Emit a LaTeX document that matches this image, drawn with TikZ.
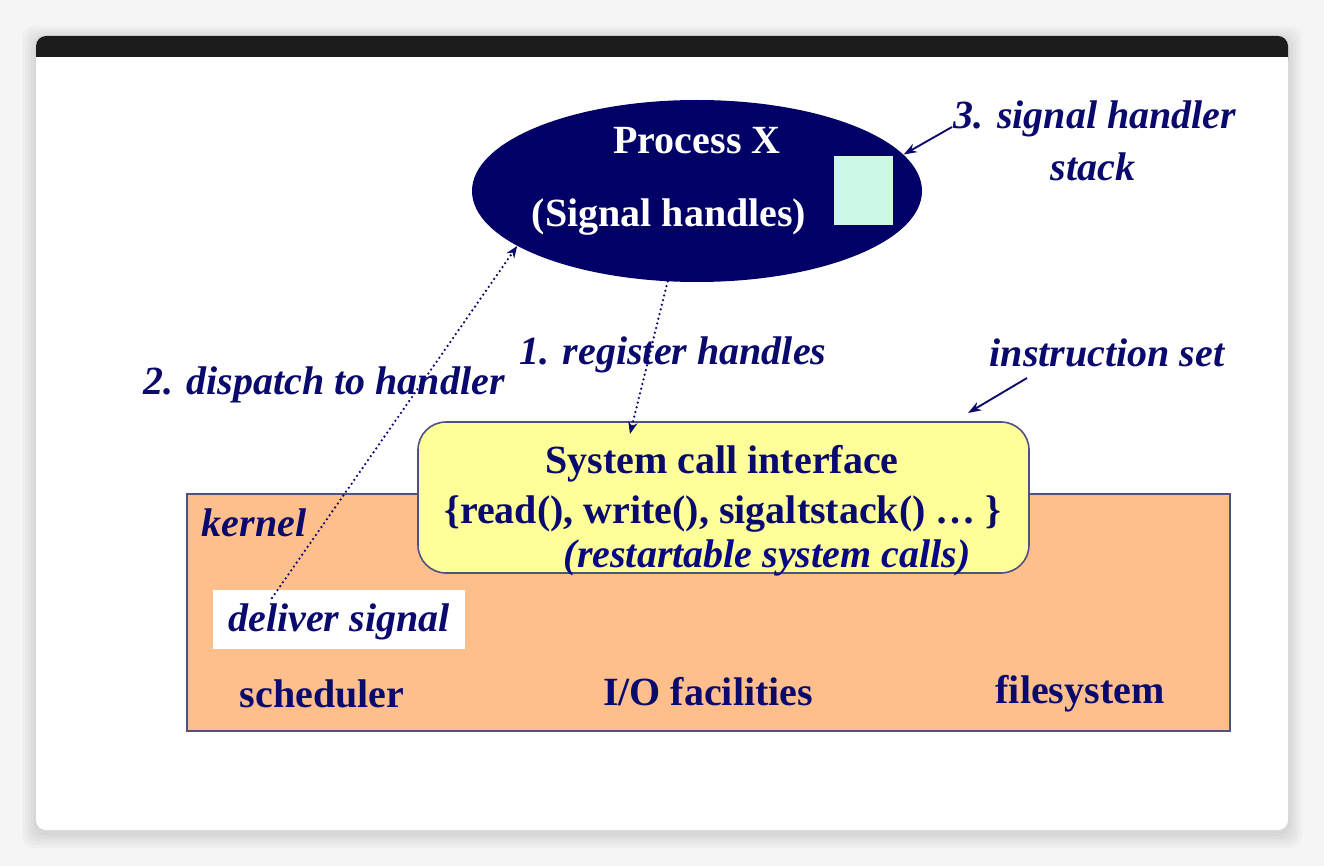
\documentclass[tikz,border=0pt]{standalone}
\usepackage{fontspec}
\setmainfont{Liberation Serif}
\usetikzlibrary{shapes.geometric,arrows.meta}
\definecolor{navytext}{RGB}{10,10,110}
\definecolor{procfill}{RGB}{0,0,102}
\definecolor{peach}{RGB}{255,191,140}
\definecolor{callyellow}{RGB}{255,255,153}
\definecolor{mint}{RGB}{204,247,230}
\definecolor{edgegray}{RGB}{80,80,130}
\definecolor{barblack}{RGB}{28,28,28}
\tikzset{
  bigtxt/.style={font=\fontsize{30}{36}\selectfont\bfseries, text=navytext, inner sep=0pt},
  note/.style={bigtxt, font=\fontsize{30}{36}\selectfont\bfseries\itshape},
  dotarrow/.style={navytext, line width=1.9pt, line cap=round, dash pattern=on 0pt off 3.6pt, -{Stealth[length=9pt,width=7pt]}},
  solidarrow/.style={navytext, line width=1.4pt, -{Stealth[length=10pt,width=7pt]}},
  panel/.style={draw=edgegray, line width=1.2pt, inner sep=0pt}
}
\begin{document}
\begin{tikzpicture}[x=0.75pt,y=-0.75pt]
	\useasboundingbox (0,0) rectangle (1324,866);
	\fill[white!96!black] (0,0) rectangle (1324,866);
	% window shadow and card
	\foreach \d in {14,11,8,5,2}
		\fill[black, opacity=0.025, rounded corners=9pt] (36-\d,36-\d+4) rectangle (1288+\d,830+\d+4);
	\fill[white, rounded corners=7.5pt] (36,36) rectangle (1288,830);
	\fill[barblack, rounded corners=7.5pt] (36,36) rectangle (1288,70);
	\fill[white] (36,57) rectangle (1288,80);

	% process X
	\node[ellipse, fill=procfill, minimum width=337.5pt, minimum height=136.5pt, inner sep=0pt] (proc) at (697,191) {};
	\node[bigtxt, text=white] (procname) at (697,141) {Process X};
	\node[bigtxt, text=white] (prochandles) at (669,217) {(Signal handles)};
	\node[fill=mint, draw=procfill, minimum width=45pt, minimum height=52.5pt, inner sep=0pt] (sigstack) at (863,190) {};
	\node[note] (stacknote) at (1095,119) {3. signal handler};
	\node[note] at (1093,167) {stack};

	% kernel
	\node[panel, fill=peach, minimum width=782.25pt, minimum height=177.75pt] (kernel) at (708.5,612.5) {};
	\node[note] (kernellbl) at (254,523) {kernel};
	\node[fill=white, minimum width=189pt, minimum height=44.25pt, inner sep=0pt] (deliver) at (339,619.5) {};
	\node[note] at (339,622) {deliver signal};
	\node[bigtxt] (sched) at (322,694) {scheduler};
	\node[bigtxt] (iofac) at (708,692) {I/O facilities};
	\node[bigtxt] (fsys) at (1080,694) {filesystem};

	% system call interface
	\node[panel, fill=callyellow, rounded corners=21pt, minimum width=458.25pt, minimum height=113.25pt] (syscall) at (723.5,497.5) {};
	\node[bigtxt] (sysname) at (722,464) {System call interface};
	\node[bigtxt] (syslist) at (723,514) {\{read(), write(), sigaltstack() … \}};
	\node[note, text=navytext!85!blue] (restart) at (767,558) {(restartable system calls)};

	% labels and arrows
	\node[note] (reglbl) at (673,355) {1. register handles};
	\node[note] (displbl) at (324,385) {2. dispatch to handler};
	\node[note] (instrlbl) at (1107,353) {instruction set};
	\coordinate (regtip) at (630,434);
	\coordinate (dispfrom) at (272,598);
	\coordinate (stackfrom) at (952,127);
	\coordinate (instrfrom) at (1027,378);
	\coordinate (instrtip) at (968,413);
	\draw[dotarrow] (proc.-108) -- (regtip);
	\draw[dotarrow] (dispfrom) -- (proc.197);
	\draw[solidarrow] (stackfrom) -- (proc.10);
	\draw[solidarrow] (instrfrom) -- (instrtip);
\end{tikzpicture}
\end{document}
